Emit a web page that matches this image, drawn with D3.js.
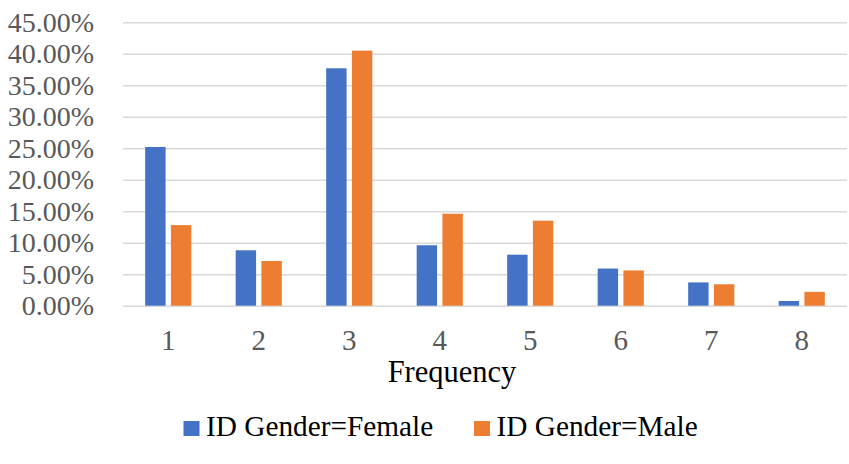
<!DOCTYPE html>
<html>
<head>
<meta charset="utf-8">
<script src="https://cdn.jsdelivr.net/npm/d3@7"></script>
<style>
  html, body { margin: 0; padding: 0; background: #fff; }
  svg { display: block; font-family: "Liberation Serif", serif; }
  svg text { font-family: "Liberation Serif", serif !important; }
</style>
</head>
<body>
<svg id="chart" width="849" height="464"></svg>
<script>
// Share of respondents at each frequency level, split by gender
const categories = ["1", "2", "3", "4", "5", "6", "7", "8"];
const seriesNames = ["ID Gender=Female", "ID Gender=Male"];
const female = [0.252, 0.088, 0.377, 0.096, 0.081, 0.059, 0.037, 0.0075];
const male   = [0.128, 0.071, 0.405, 0.146, 0.135, 0.056, 0.034, 0.022];
const yTicks = [0, 0.05, 0.10, 0.15, 0.20, 0.25, 0.30, 0.35, 0.40, 0.45];
const colors = ["#4472C4", "#ED7D31"];
const xTitle = "Frequency";

const seriesValues = [female, male];
const rows = categories.map((c, i) => ({
  cat: c,
  vals: seriesNames.map((s, k) => ({ series: s, k, v: seriesValues[k][i] }))
}));

const svg = d3.select("#chart");
const plotLeft = 123, plotRight = 847, plotTop = 22.3, plotBottom = 305.7;

const x0 = d3.scaleBand().domain(categories).range([plotLeft, plotRight]).paddingInner(0.49).paddingOuter(0.245);
const x1 = d3.scaleBand().domain(seriesNames).range([0, x0.bandwidth()]).paddingInner(0.207);
const y = d3.scaleLinear().domain([0, 0.45]).range([plotBottom, plotTop]);

// horizontal gridlines + y tick labels
const yAxis = d3.axisLeft(y).tickValues(yTicks).tickFormat(d3.format(".2%"))
  .tickSize(-(plotRight - plotLeft)).tickPadding(29);
const gy = svg.append("g").attr("transform", `translate(${plotLeft},0)`).call(yAxis)
  .attr("font-family", null).attr("font-size", null);
gy.select(".domain").remove();
gy.selectAll(".tick line").attr("stroke", "#D9D9D9").attr("stroke-width", 1.6);
gy.selectAll(".tick text").attr("fill", "#595959").style("font-size", "28px");

// bars
const groups = svg.append("g").selectAll("g").data(rows).join("g")
  .attr("transform", d => `translate(${x0(d.cat)},0)`);
groups.selectAll("rect").data(d => d.vals).join("rect")
  .attr("x", d => x1(d.series))
  .attr("width", x1.bandwidth())
  .attr("y", d => y(d.v))
  .attr("height", d => y(0) - y(d.v))
  .attr("fill", d => colors[d.k]);

// x axis labels
const xAxis = d3.axisBottom(x0).tickSize(0).tickPadding(0);
const gx = svg.append("g").attr("transform", `translate(0,${plotBottom})`).call(xAxis)
  .attr("font-family", null).attr("font-size", null);
gx.select(".domain").remove();
gx.selectAll(".tick text").attr("fill", "#595959").style("font-size", "29px")
  .attr("dy", null).attr("y", 44.5);

// x axis title
svg.append("text").attr("x", 452).attr("y", 382)
  .attr("text-anchor", "middle").attr("fill", "#000").style("font-size", "30.5px")
  .text(xTitle);

// legend
const legendX = [183.5, 474];
const legend = svg.append("g").selectAll("g").data(seriesNames).join("g")
  .attr("transform", (d, i) => `translate(${legendX[i]},0)`);
legend.append("rect").attr("x", 0).attr("y", 421).attr("width", 16).attr("height", 15)
  .attr("fill", (d, i) => colors[i]);
legend.append("text").attr("x", 22.5).attr("y", 436).attr("fill", "#000").style("font-size", "29.3px")
  .text(d => d);
</script>
</body>
</html>
